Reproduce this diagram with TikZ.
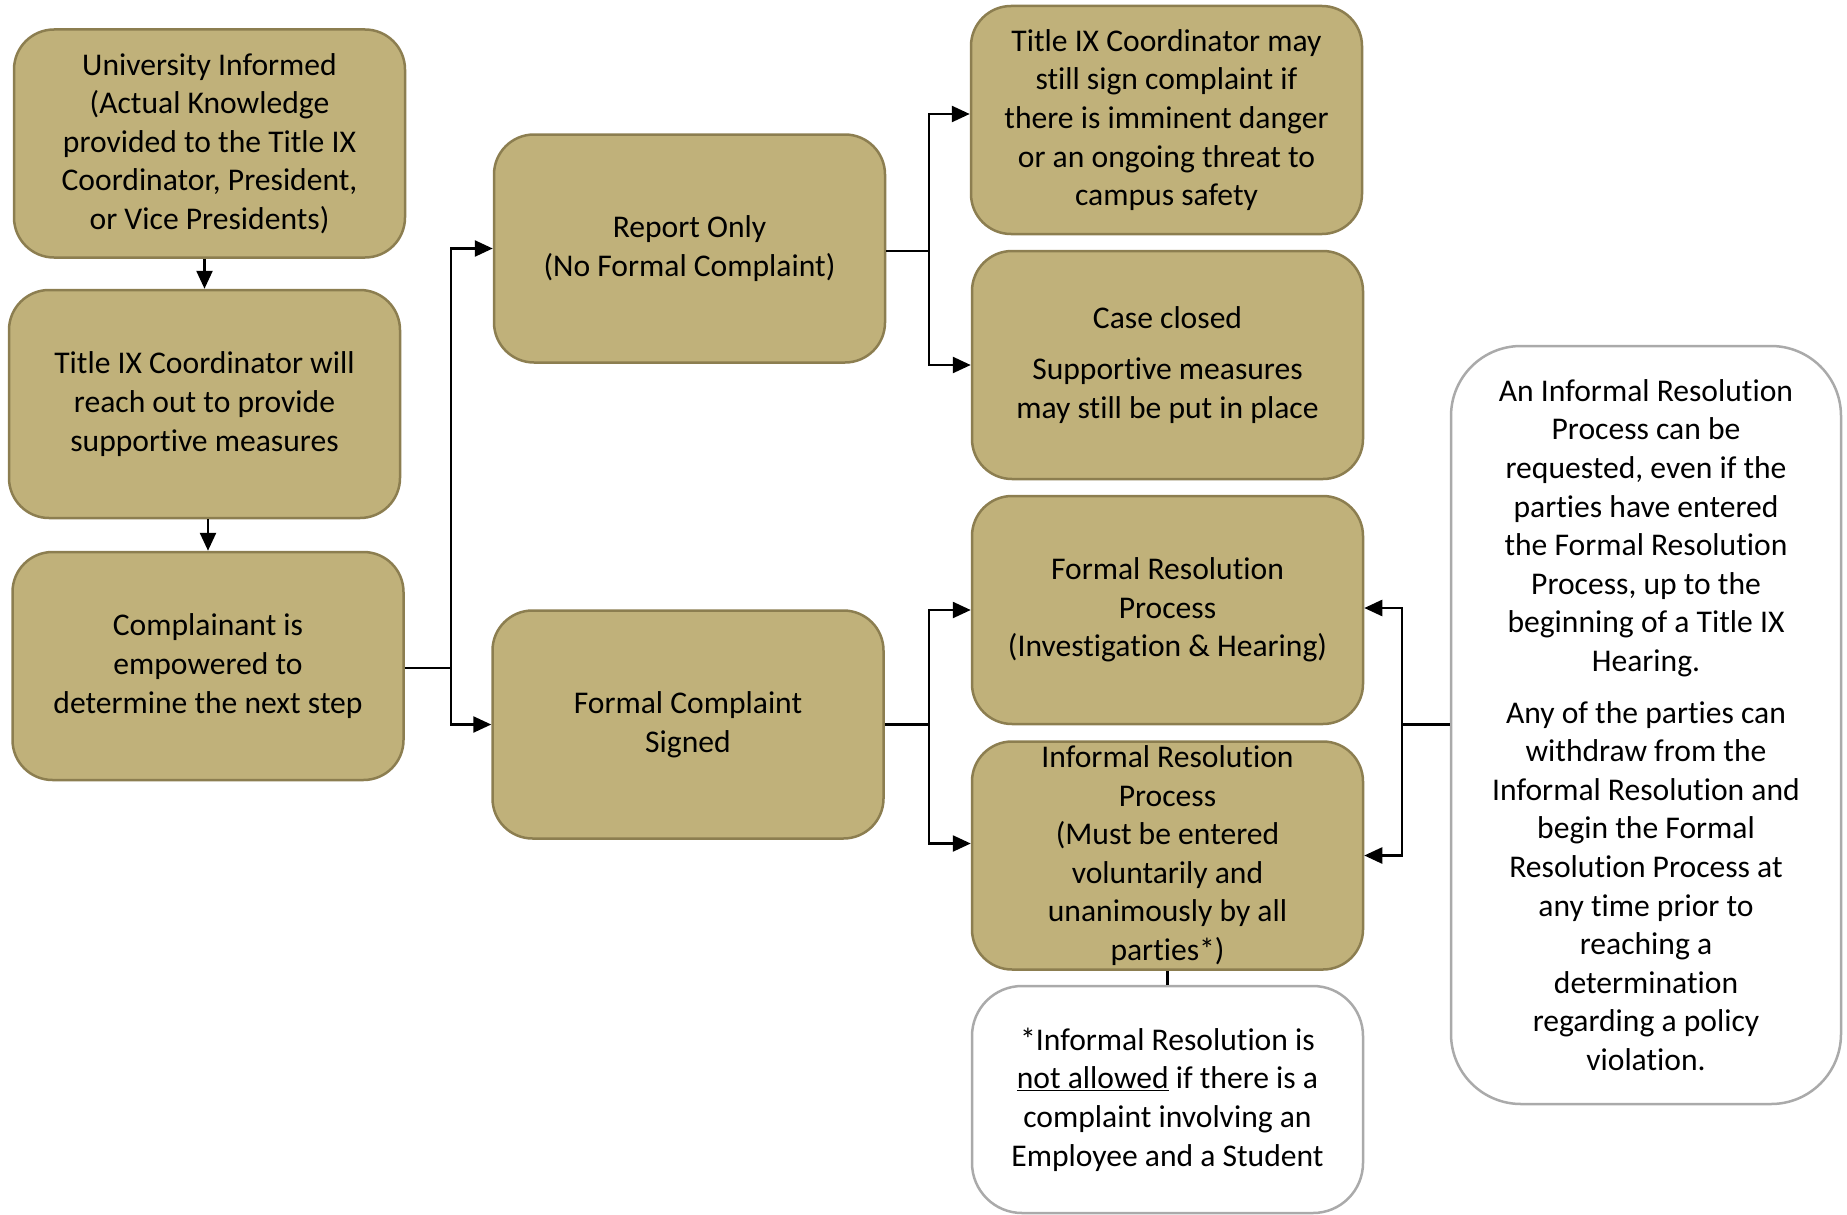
\documentclass[tikz,border=0pt]{standalone}
\usepackage{fontspec}
\setmainfont{Carlito}[RawFeature={-liga;-clig;-dlig;-calt}]
\usetikzlibrary{arrows.meta,positioning}
\definecolor{gold}{RGB}{192,177,122}
\definecolor{golddark}{RGB}{140,126,80}
\definecolor{greyline}{RGB}{170,170,170}

\begin{document}
\begin{tikzpicture}[x=1pt, y=-1pt, font=\fontsize{31.6}{38.6}\selectfont,
			stage/.style={draw=golddark, line width=2.5pt, fill=gold, rounded corners=40pt,
				minimum width=391pt, minimum height=228pt, align=center, inner sep=0pt,
				execute at begin node={\rule{0pt}{35pt}}},
			note/.style={stage, draw=greyline, fill=white, rounded corners=50pt},
			link/.style={line width=2.5pt},
			flow/.style={link, -{Triangle[length=18pt,width=16pt]}}]
			\useasboundingbox (0,0) rectangle (1847,1215);
			% left column
			\node[stage] (informed) at (209.5,143.5) {University Informed\\(Actual Knowledge\\provided to the Title IX\\Coordinator, President,\\or Vice Presidents)};
			\node[stage] (outreach) at (204.5,404) {Title IX Coordinator will\\reach out to provide\\supportive measures};
			\node[stage] (empower) at (208,666) {Complainant is\\empowered to\\determine the next step};
			% middle column
			\node[stage] (report) at (689.5,248.5) {Report Only\\(No Formal Complaint)};
			\node[stage] (formal) at (688,724.5) {Formal Complaint\\Signed};
			% right column
			\node[stage] (danger) at (1166.5,120) {Title IX Coordinator may\\still sign complaint if\\there is imminent danger\\or an ongoing threat to\\campus safety};
			\node[stage] (closed) at (1167.5,365) {Case closed\\[13pt]Supportive measures\\may still be put in place};
			\node[stage] (hearing) at (1167.5,610) {Formal Resolution\\Process\\(Investigation \& Hearing)};
			\node[stage] (informal) at (1167.5,855.5) {Informal Resolution\\Process\\(Must be entered\\voluntarily and\\unanimously by all\\parties*)};
			\node[note, minimum height=227pt] (footnote) at (1167.5,1099.5) {*Informal Resolution is\\\underline{not allowed} if there is a\\complaint involving an\\Employee and a Student};
			\node[note, minimum width=390pt, minimum height=758pt, rounded corners=70pt] (switch) at (1646,725) {An Informal Resolution\\Process can be\\requested, even if the\\parties have entered\\the Formal Resolution\\Process, up to the\\beginning of a Title IX\\Hearing.\\[13pt]Any of the parties can\\withdraw from the\\Informal Resolution and\\begin the Formal\\Resolution Process at\\any time prior to\\reaching a\\determination\\regarding a policy\\violation.};
			% connectors
			\draw[flow] (outreach.north |- informed.south) -- (outreach.north);
			\draw[flow] (empower.north |- outreach.south) -- (empower.north);
			\coordinate (fork1) at (451,668);
			\draw[link] (empower.east |- fork1) -- (fork1);
			\draw[flow] (fork1) |- (report.west);
			\draw[flow] (fork1) |- (formal.west);
			\coordinate (fork2) at (929,251);
			\draw[link] (report.east |- fork2) -- (fork2);
			\draw[flow] (fork2) |- ([yshift=6pt]danger.west);
			\draw[flow] (fork2) |- (closed.west);
			\coordinate (fork3) at (929,724.5);
			\draw[link] (formal.east) -- (fork3);
			\draw[flow] (fork3) |- (hearing.west);
			\draw[flow] (fork3) |- ([yshift=12pt]informal.west);
			\coordinate (fork4) at (1402,724.5);
			\draw[link] (switch.west |- fork4) -- (fork4);
			\draw[flow] (fork4) |- ([yshift=2pt]hearing.east);
			\draw[flow] (fork4) |- (informal.east);
			\draw[link] (informal.south) -- (footnote.north);
\end{tikzpicture}
\end{document}
